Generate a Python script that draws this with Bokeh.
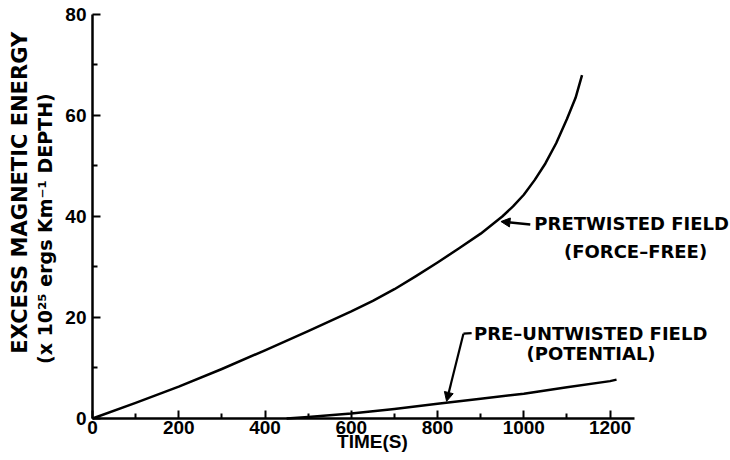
from bokeh.plotting import figure
from bokeh.models import Label, Arrow, NormalHead, Range1d, FixedTicker
from bokeh.embed import file_html
from bokeh.resources import INLINE
import math

# --- data ---
time_pretwisted = [0, 100, 200, 300, 400, 500, 600, 650, 700, 750, 800, 850, 900, 950, 975,
                   1000, 1025, 1050, 1075, 1100, 1120, 1135]
energy_pretwisted = [0, 3.1, 6.3, 9.8, 13.5, 17.3, 21.2, 23.3, 25.6, 28.2, 30.9, 33.7, 36.6, 40.0, 42.0,
                     44.3, 47.2, 50.5, 54.5, 59.3, 63.5, 68.0]

time_untwisted = [450, 500, 600, 700, 800, 900, 1000, 1100, 1200, 1215]
energy_untwisted = [0, 0.3, 1.0, 1.9, 2.9, 3.9, 4.9, 6.2, 7.4, 7.7]

x_ticks = [0, 200, 400, 600, 800, 1000, 1200]
x_minor = [100, 300, 500, 700, 900, 1100]
y_ticks = [0, 20, 40, 60, 80]
y_minor = [10, 30, 50, 70]

TICK_FONT = "Liberation Sans"
ANN_FONT = "DejaVu Sans"

# frame covers the whole canvas; axes are pinned at data 0 with fixed_location
p = figure(width=730, height=460, output_backend="svg", toolbar_location=None,
           x_range=Range1d(-213.3, 1479.2), y_range=Range1d(-8.32, 82.77),
           min_border_left=0, min_border_right=0, min_border_top=0, min_border_bottom=0)
p.outline_line_color = None
p.grid.visible = False
p.background_fill_color = "white"
p.border_fill_color = "white"

for ax, ticks, minor, bnd in ((p.xaxis[0], x_ticks, x_minor, (0, 1257)),
                              (p.yaxis[0], y_ticks, y_minor, (0, 80))):
    ax.fixed_location = 0
    ax.ticker = FixedTicker(ticks=ticks, minor_ticks=minor)
    ax.bounds = bnd
    ax.axis_line_width = 2.5
    ax.axis_line_color = "black"
    ax.major_tick_in = 8
    ax.major_tick_out = 0
    ax.minor_tick_in = 5
    ax.minor_tick_out = 0
    ax.major_tick_line_width = 2
    ax.minor_tick_line_width = 2
    ax.major_tick_line_color = "black"
    ax.minor_tick_line_color = "black"
    ax.major_label_text_font = TICK_FONT
    ax.major_label_text_font_style = "bold"
    ax.major_label_text_font_size = "19px"
    ax.major_label_text_color = "black"

p.xaxis.major_label_standoff = 3
p.yaxis.major_label_standoff = 6

p.line(time_pretwisted, energy_pretwisted, line_width=2.5, line_color="black", line_join="round")
p.line(time_untwisted, energy_untwisted, line_width=2.5, line_color="black", line_join="round")

head = dict(size=9, fill_color="black", line_color="black")
p.add_layout(Arrow(end=NormalHead(**head), x_start=1015, y_start=38.4, x_end=947, y_end=39.0,
                   line_width=2.5, line_color="black"))
p.add_layout(Arrow(end=NormalHead(**head), x_start=860, y_start=16.8, x_end=821, y_end=3.4,
                   line_width=2.2, line_color="black"))
p.line([860, 879], [16.8, 16.9], line_width=2.2, line_color="black")

def lab(txt, x, y, size, font=ANN_FONT, angle=0):
    p.add_layout(Label(x=x, y=y, text=txt, text_font=font, text_font_style="bold",
                       text_font_size=size, text_color="black", text_align="center",
                       text_baseline="middle", angle=angle))

lab("PRETWISTED FIELD", 1250, 38.6, "18px")
lab("(FORCE\u2013FREE)", 1259, 33.1, "18px")
lab("PRE\u2013UNTWISTED FIELD", 1155, 16.8, "18px")
lab("(POTENTIAL)", 1156, 12.9, "18px")

lab("TIME(S)", 649, -4.55, "19px", font=TICK_FONT)
lab("EXCESS MAGNETIC ENERGY", -169, 44.7, "21px", angle=math.pi / 2)
lab("(x 10\u00b2\u2075 ergs Km\u207b\u00b9 DEPTH)", -111, 37.6, "19px", angle=math.pi / 2)

open("out.html", "w").write(file_html(p, INLINE))
